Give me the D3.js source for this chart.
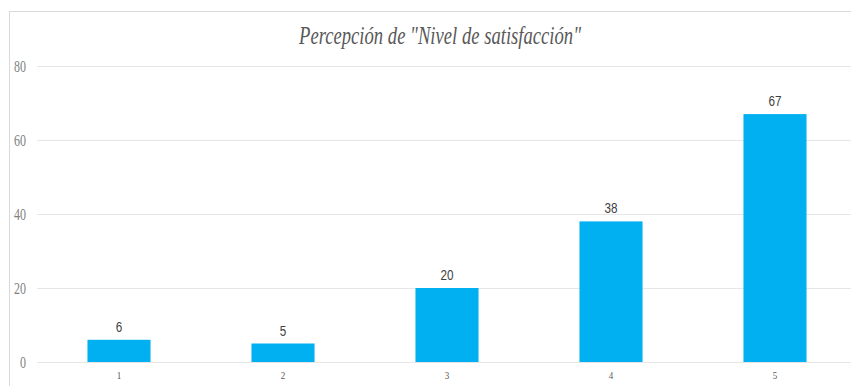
<!DOCTYPE html>
<html>
<head>
<meta charset="utf-8">
<script src="https://cdn.jsdelivr.net/npm/d3@7"></script>
<style>
  html, body { margin: 0; padding: 0; background: #fff; overflow: hidden; }
</style>
</head>
<body>
<div id="chart"></div>
<script>
// chart data
const categories = ['1', '2', '3', '4', '5'];
const values = [6, 5, 20, 38, 67];
const yTicks = [0, 20, 40, 60, 80];
const title = 'Percepción de "Nivel de satisfacción"';

const W = 851, H = 386;
const margin = { left: 37, right: -6, top: 66, bottom: 24 };

let svg = d3.select('#chart')
    .append('svg')
    .attr('width', W)
    .attr('height', H);

// chart border (cropped on right/bottom)
svg.append('rect')
    .attr('x', 9.5).attr('y', 11.5)
    .attr('width', W + 20).attr('height', H + 20)
    .attr('fill', '#fff')
    .attr('stroke', '#d9d9d9')
    .attr('stroke-width', 1);

let x = d3.scaleBand()
    .domain(categories)
    .range([margin.left, W - margin.right])
    .paddingInner(1.6 / 2.6)
    .paddingOuter(0.8 / 2.6);

let y = d3.scaleLinear()
    .domain([0, 80])
    .range([H - margin.bottom, margin.top]);

// gridlines
svg.append('g')
    .selectAll('line')
    .data(yTicks)
    .enter()
    .append('line')
    .attr('x1', margin.left)
    .attr('x2', W)
    .attr('y1', d => Math.round(y(d)) + 0.5)
    .attr('y2', d => Math.round(y(d)) + 0.5)
    .attr('stroke', '#e6e6e6')
    .attr('stroke-width', 1);

// y tick labels
svg.append('g')
    .selectAll('text')
    .data(yTicks)
    .enter()
    .append('text')
    .attr('x', 26)
    .attr('y', d => y(d) + 5.5)
    .attr('text-anchor', 'end')
    .attr('font-family', '"Liberation Serif", "Times New Roman", serif')
    .attr('font-size', 16)
    .attr('fill', '#7f7f7f')
    .attr('textLength', d => String(d).length * 6)
    .attr('lengthAdjust', 'spacingAndGlyphs')
    .text(d => d);

// bars
svg.append('g')
    .selectAll('rect')
    .data(values)
    .enter()
    .append('rect')
    .attr('x', (d, i) => x(categories[i]))
    .attr('y', d => y(d))
    .attr('width', x.bandwidth())
    .attr('height', d => y(0) - y(d))
    .attr('fill', '#00b0f0');

// data labels
svg.append('g')
    .selectAll('text')
    .data(values)
    .enter()
    .append('text')
    .attr('x', (d, i) => x(categories[i]) + x.bandwidth() / 2)
    .attr('y', d => y(d) - 8)
    .attr('text-anchor', 'middle')
    .attr('font-family', '"Liberation Sans", Arial, sans-serif')
    .attr('font-size', 14)
    .attr('fill', '#404040')
    .attr('textLength', d => String(d).length * 6.5)
    .attr('lengthAdjust', 'spacingAndGlyphs')
    .text(d => d);

// category labels
svg.append('g')
    .selectAll('text')
    .data(categories)
    .enter()
    .append('text')
    .attr('x', d => x(d) + x.bandwidth() / 2)
    .attr('y', H - 7)
    .attr('text-anchor', 'middle')
    .attr('font-family', '"Liberation Serif", "Times New Roman", serif')
    .attr('font-size', 11)
    .attr('fill', '#595959')
    .attr('textLength', 4.5)
    .attr('lengthAdjust', 'spacingAndGlyphs')
    .text(d => d);

// title
svg.append('text')
    .attr('x', 440)
    .attr('y', 44)
    .attr('text-anchor', 'middle')
    .attr('font-family', '"Liberation Serif", "Times New Roman", serif')
    .attr('font-style', 'italic')
    .attr('font-size', 25)
    .attr('fill', '#595959')
    .attr('textLength', 282)
    .attr('lengthAdjust', 'spacingAndGlyphs')
    .text(title);
</script>
</body>
</html>
